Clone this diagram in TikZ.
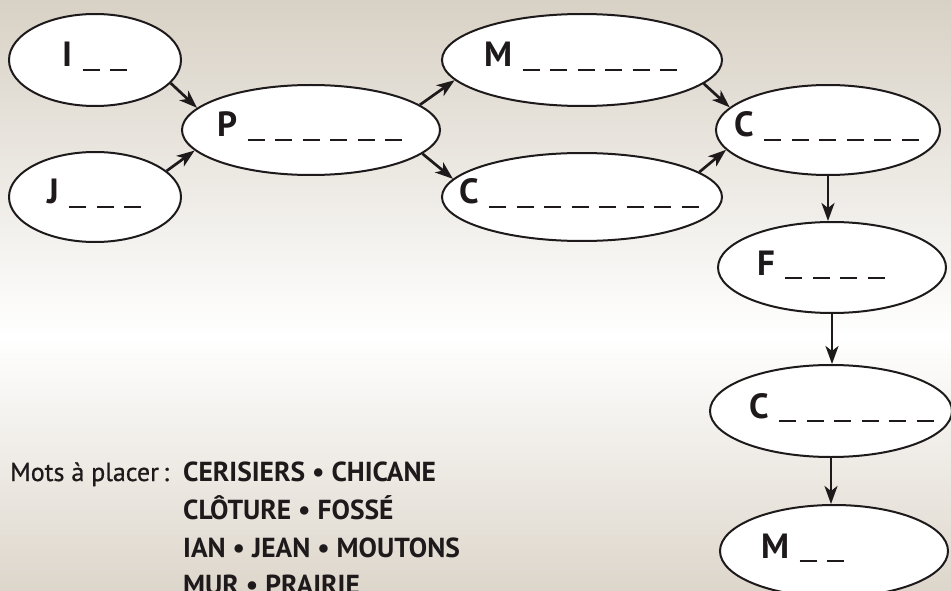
\documentclass[tikz,border=0pt]{standalone}
\usepackage{fontspec}
\setmainfont{PT Sans}
\usetikzlibrary{arrows.meta,shapes.geometric}
\definecolor{bgtop}{HTML}{D8D1C5}
\definecolor{bgbot}{HTML}{DDD6CB}
\definecolor{ink}{HTML}{1E1A1B}
\tikzset{
  bubble/.style={draw=ink, line width=2pt, fill=white, ellipse, inner sep=0pt},
  word/.style={anchor=base west, inner sep=0pt, text=ink, font=\bfseries\fontsize{35}{38}\selectfont},
  conn/.style={draw=ink, line width=2.7pt, -{Stealth[length=18pt,width=13pt,inset=5pt]}},
  list/.style={anchor=base west, inner sep=0pt, text=ink, font=\fontsize{27.5}{30}\selectfont}
}
\newcommand{\blanks}[1]{\foreach \k in {1,...,#1}{\hspace{10.5pt}\rule[-4pt]{17pt}{2.3pt}}}
\begin{document}
\begin{tikzpicture}[x=1pt,y=-1pt]
\useasboundingbox (0,0) rectangle (951,591);
\clip (0,0) rectangle (951,591);
\shade[top color=bgtop, bottom color=white] (0,0) rectangle (951,337);
\shade[top color=white, bottom color=bgbot] (0,337) rectangle (951,591);
% ellipses
\node[bubble, minimum width=172pt, minimum height=92pt] (I) at (95,60) {};
\node[bubble, minimum width=172pt, minimum height=90pt] (J) at (95,197) {};
\node[bubble, minimum width=258pt, minimum height=90pt] (P) at (311,130) {};
\node[bubble, minimum width=280pt, minimum height=92pt] (M) at (582,60) {};
\node[bubble, minimum width=280pt, minimum height=88pt] (Cl) at (582,197) {};
\node[bubble, minimum width=224pt, minimum height=90pt] (Cr) at (828,130) {};
\node[bubble, minimum width=228pt, minimum height=91pt] (F) at (832,267.5) {};
\node[bubble, minimum width=242pt, minimum height=92pt] (C3) at (831,411) {};
\node[bubble, minimum width=228pt, minimum height=92pt] (M3) at (834,551) {};
% texts
\node[word] (tI) at (62,67) {I\blanks{2}};
\node[word] (tJ) at (47,204) {J\blanks{3}};
\node[word] (tP) at (217,137) {P\blanks{6}};
\node[word] (tM) at (484,67) {M\blanks{6}};
\node[word] (tCl) at (459,204) {C\blanks{8}};
\node[word] (tCr) at (734,137) {C\blanks{6}};
\node[word] (tF) at (757,275) {F\blanks{4}};
\node[word] (tC3) at (749,418) {C\blanks{6}};
\node[word] (tM3) at (761,558) {M\blanks{2}};
% connectors
\draw[conn] (I.-17) -- (P.169);
\draw[conn] (J.20) -- (P.-170);
\draw[conn] (P.13) -- (M.-171);
\draw[conn] (P.-12) -- (Cl.172);
\draw[conn] (M.-11) -- (Cr.167);
\draw[conn] (Cl.12) -- (Cr.-169);
\draw[conn] (Cr.south) -- (Cr.south |- F.north);
\draw[conn] (F.south) -- (F.south |- C3.north);
\draw[conn] (C3.south) -- (C3.south |- M3.north);
% word list
\node[list, font=\fontsize{26}{30}\selectfont] (mots) at (10,481) {\addfontfeature{FakeBold=0.8}Mots à placer\,:};
\node[list] (l1) at (183,481) {\textbf{CERISIERS • CHICANE}};
\node[list] (l2) at (183,519) {\textbf{CLÔTURE • FOSSÉ}};
\node[list] (l3) at (183,557) {\textbf{IAN • JEAN • MOUTONS}};
\node[list] (l4) at (183,594) {\textbf{MUR • PRAIRIE}};
\end{tikzpicture}
\end{document}
